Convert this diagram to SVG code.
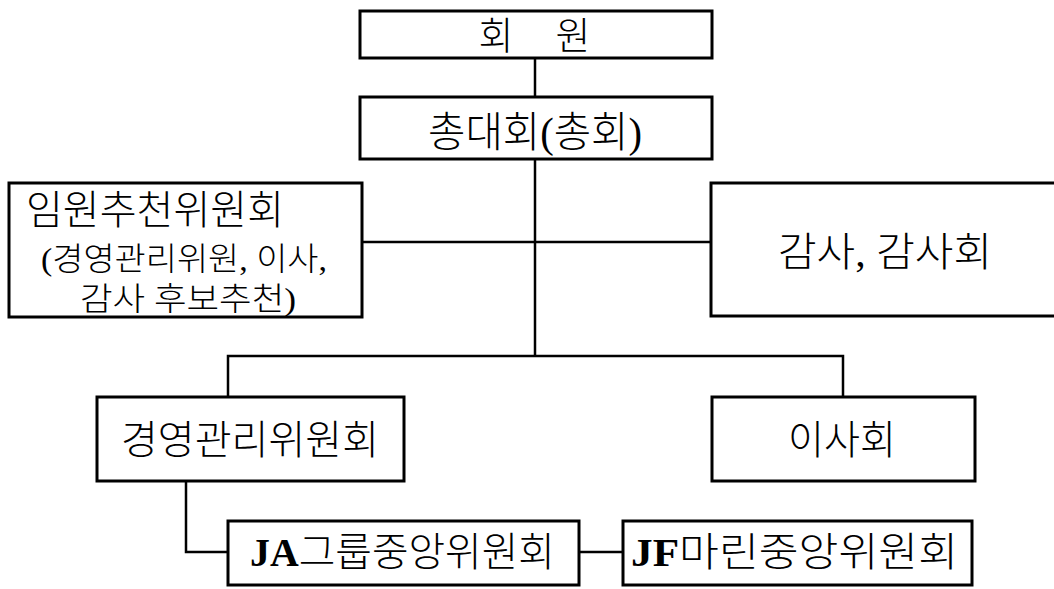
<svg xmlns="http://www.w3.org/2000/svg" width="1054" height="589" viewBox="0 0 1054 589">
  <style>
    .box { fill: #ffffff; stroke: #000000; stroke-width: 3; }
    .link { fill: none; stroke: #000000; stroke-width: 2.5; }
    .lbl { font-family: "Liberation Serif", "Noto Sans CJK KR", serif; font-weight: 300; fill: #000000; dominant-baseline: central; }
    .latin { font-weight: 700; }
  </style>
  <rect width="1054" height="589" fill="#ffffff"/>

  <!-- connectors -->
  <g id="connectors">
    <line class="link" x1="535" y1="58" x2="535" y2="97"/>
    <line class="link" x1="535" y1="159" x2="535" y2="356"/>
    <line class="link" x1="362" y1="242" x2="711" y2="242"/>
    <polyline class="link" points="228,397 228,356 843,356 843,397"/>
    <polyline class="link" points="186,481 186,552 228,552"/>
    <line class="link" x1="579" y1="552" x2="623" y2="552"/>
  </g>

  <!-- members -->
  <g id="members">
    <rect class="box" x="360" y="11" width="352" height="47"/>
    <text class="lbl" font-size="38" y="36" text-anchor="middle"><tspan x="496">회</tspan><tspan x="573">원</tspan></text>
  </g>

  <!-- general assembly -->
  <g id="general-assembly">
    <rect class="box" x="360" y="97" width="352" height="62"/>
    <text class="lbl" font-size="42" x="535" y="133" text-anchor="middle" textLength="214" lengthAdjust="spacingAndGlyphs">총대회(총회)</text>
  </g>

  <!-- nomination committee -->
  <g id="nomination-committee">
    <rect class="box" x="9" y="183" width="353" height="134"/>
    <text class="lbl" font-size="40" x="26" y="210" textLength="258" lengthAdjust="spacingAndGlyphs">임원추천위원회</text>
    <text class="lbl" font-size="32" x="41" y="259" textLength="286" lengthAdjust="spacingAndGlyphs">(경영관리위원, 이사,</text>
    <text class="lbl" font-size="32" x="80" y="299" textLength="216" lengthAdjust="spacingAndGlyphs">감사 후보추천)</text>
  </g>

  <!-- auditors -->
  <g id="auditors">
    <rect class="box" x="711" y="183" width="360" height="133"/>
    <text class="lbl" font-size="40" x="885" y="252" text-anchor="middle" textLength="214" lengthAdjust="spacingAndGlyphs">감사, 감사회</text>
  </g>

  <!-- management committee -->
  <g id="management-committee">
    <rect class="box" x="97" y="397" width="307" height="84"/>
    <text class="lbl" font-size="40" x="250" y="440" text-anchor="middle" textLength="258" lengthAdjust="spacingAndGlyphs">경영관리위원회</text>
  </g>

  <!-- board of directors -->
  <g id="board">
    <rect class="box" x="712" y="397" width="263" height="84"/>
    <text class="lbl" font-size="40" x="842" y="440" text-anchor="middle" textLength="108" lengthAdjust="spacingAndGlyphs">이사회</text>
  </g>

  <!-- JA group central committee -->
  <g id="ja-committee">
    <rect class="box" x="228" y="521" width="351" height="64"/>
    <text class="lbl" font-size="40" x="250" y="552" textLength="305" lengthAdjust="spacingAndGlyphs"><tspan class="latin">JA</tspan>그룹중앙위원회</text>
  </g>

  <!-- JF marine central committee -->
  <g id="jf-committee">
    <rect class="box" x="623" y="521" width="349" height="64"/>
    <text class="lbl" font-size="40" x="631" y="552" textLength="327" lengthAdjust="spacingAndGlyphs"><tspan class="latin">JF</tspan>마린중앙위원회</text>
  </g>
</svg>
